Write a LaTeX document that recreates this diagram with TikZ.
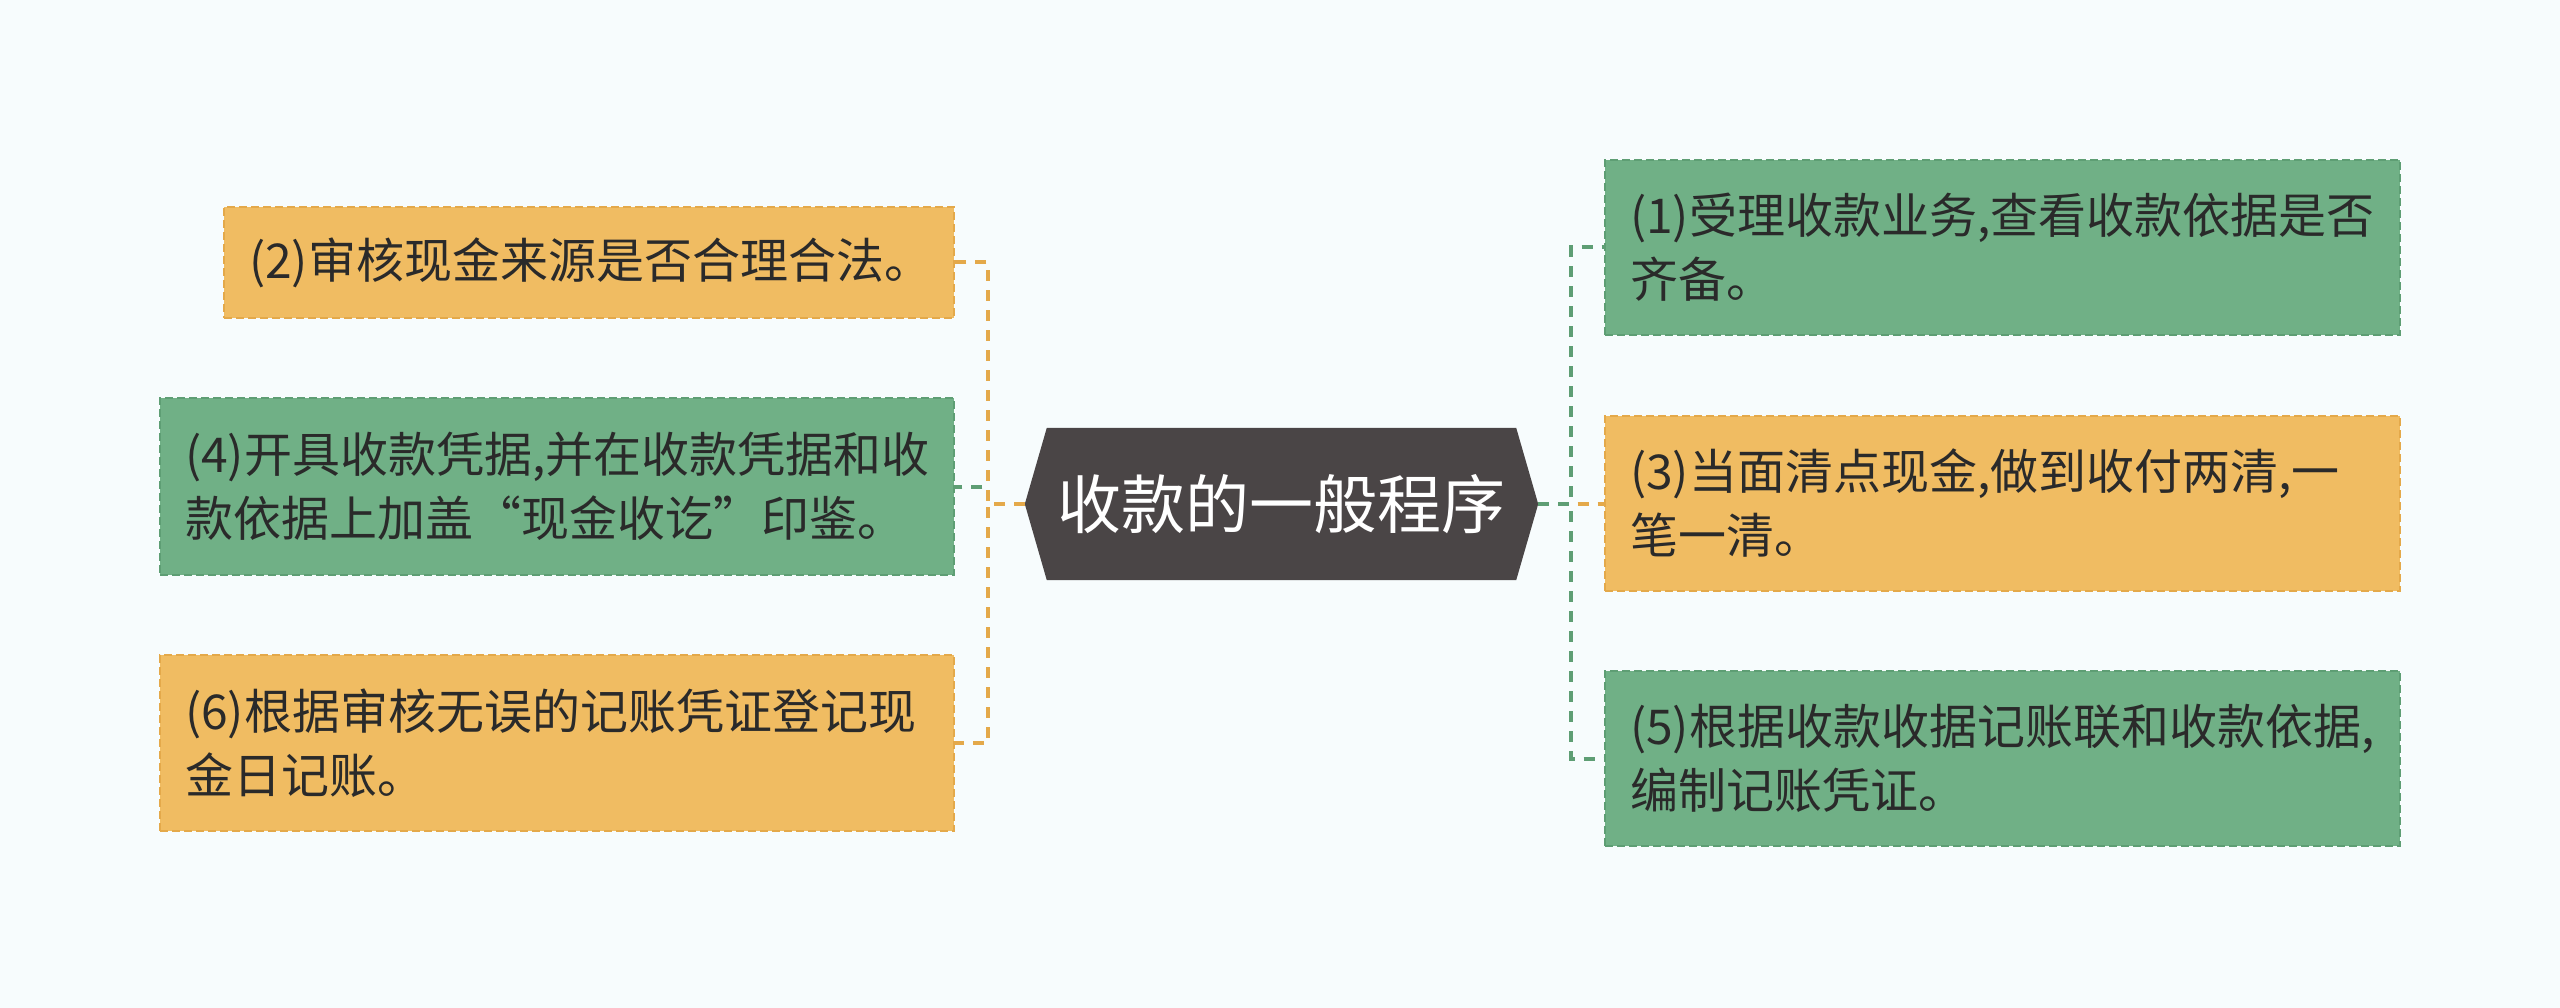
\documentclass[tikz,border=0pt]{standalone}
\usepackage{fontspec}
\setmainfont{Noto Sans CJK SC}
\usetikzlibrary{calc,backgrounds}
\definecolor{bgc}{HTML}{F7FCFD}
\definecolor{gfill}{HTML}{70B086}
\definecolor{gline}{HTML}{5E9E74}
\definecolor{ofill}{HTML}{F0BC62}
\definecolor{oline}{HTML}{E4A94A}
\definecolor{dark}{HTML}{4A4546}
\definecolor{txt}{HTML}{2A2A2A}
\tikzset{
  leaf/.style={rectangle, inner xsep=25, inner ysep=0, text width=#1-50, minimum width=#1,
    align=left, text=txt, font=\fontsize{48}{64}\selectfont, line width=1.6,
    dash pattern=on 8 off 4},
  gbox/.style={leaf=#1, fill=gfill, draw=gline},
  obox/.style={leaf=#1, fill=ofill, draw=oline},
  glink/.style={draw=gline, line width=4, dash pattern=on 11 off 9},
  olink/.style={draw=oline, line width=4, dash pattern=on 11 off 9},
}
\begin{document}
\begin{tikzpicture}[x=1pt,y=-1pt]
\useasboundingbox (0,0) rectangle (2560,1008);
% center
\node[minimum width=513, minimum height=152, inner sep=0, text=white,
      font=\fontsize{64}{70}\selectfont] (c) at (1281.5,504) {收款的一般程序};
% left boxes
\node[obox=730, minimum height=111] (b2) at (589,262.5) {(2)审核现金来源是否合理合法。};
\node[gbox=794, minimum height=177] (b4) at (557,486.5) {(4)开具收款凭据,并在收款凭据和收\\款依据上加盖“现金收讫”印鉴。};
\node[obox=794, minimum height=176] (b6) at (557,743) {(6)根据审核无误的记账凭证登记现\\金日记账。};
% right boxes
\node[gbox=795, minimum height=175] (b1) at (2002.5,247.5) {(1)受理收款业务,查看收款依据是否\\齐备。};
\node[obox=795, minimum height=175] (b3) at (2002.5,503.5) {(3)当面清点现金,做到收付两清,一\\笔一清。};
\node[gbox=795, minimum height=175] (b5) at (2002.5,758.5) {(5)根据收款收据记账联和收款依据,\\编制记账凭证。};
\coordinate (lh) at (988,504);
\coordinate (rh) at (1571,504);
\begin{scope}[on background layer]
  \fill[bgc] (0,0) rectangle (2560,1008);
  \fill[dark] (c.west) -- ($(c.north west)+(22,0)$) -- ($(c.north east)+(-22,0)$) -- (c.east)
     -- ($(c.south east)+(-22,0)$) -- ($(c.south west)+(22,0)$) -- cycle;
  % left connectors
  \draw[glink] (c.west) -- (lh) |- (b4.east);
  \draw[olink] (c.west) -- (lh) |- (b2.east);
  \draw[olink] (c.west) -- (lh) |- (b6.east);
  % right connectors
  \draw[olink] (c.east) -- (rh) |- (b3.west);
  \draw[glink] (c.east) -- (rh) |- (b1.west);
  \draw[glink] (c.east) -- (rh) |- (b5.west);
\end{scope}
\end{tikzpicture}
\end{document}
